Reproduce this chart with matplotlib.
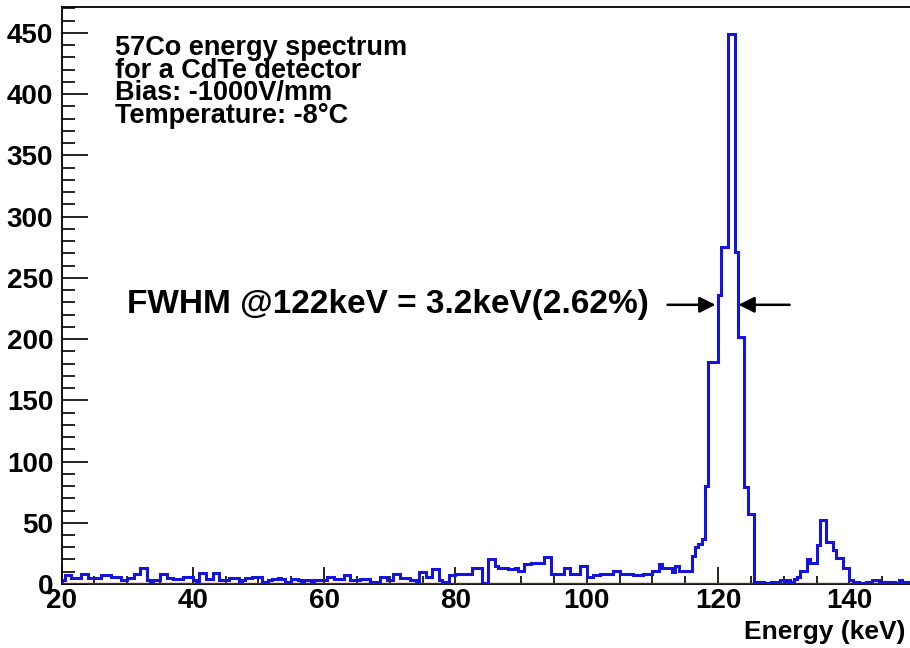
import numpy as np
import matplotlib.pyplot as plt
from matplotlib.ticker import MultipleLocator

plt.rcParams['font.family'] = ['Liberation Sans', 'DejaVu Sans']
plt.rcParams['font.weight'] = 'bold'

# histogram: 0.5 keV bins from 20 to 150 keV
e_lo = 20.0
e_hi = 150.0
e_step = 0.5

counts = [
    3, 7, 7, 5, 5, 5, 8, 8, 5, 5,           # 20 - 25
    5, 5, 7, 7, 7, 6, 6, 6, 3, 3,           # 25 - 30
    5, 5, 8, 8, 13, 13, 3, 1, 3, 3,         # 30 - 35
    8, 8, 5, 5, 4, 4, 4, 6, 6, 6,           # 35 - 40
    3, 2, 9, 9, 4, 4, 9, 9, 3, 3,           # 40 - 45
    3, 5, 5, 5, 2, 3, 5, 5, 6, 6,           # 45 - 50
    6, 2, 2, 3, 4, 4, 5, 4, 2, 2,           # 50 - 55
    4, 4, 3, 2, 3, 3, 2, 3, 3, 3,           # 55 - 60
    3, 6, 6, 4, 4, 4, 7, 7, 3, 3,           # 60 - 65
    3, 4, 4, 4, 2, 2, 2, 6, 6, 3,           # 65 - 70
    3, 8, 8, 5, 5, 5, 3, 3, 1, 10,          # 70 - 75
    10, 6, 6, 12, 12, 3, 2, 2, 7, 7,        # 75 - 80
    8, 8, 8, 8, 8, 13, 13, 13, 1, 1,        # 80 - 85
    20, 20, 15, 13, 13, 13, 12, 12, 13, 11,  # 85 - 90
    11, 16, 16, 17, 17, 17, 17, 22, 22, 8,  # 90 - 95
    8, 8, 8, 13, 13, 8, 8, 8, 15, 15,       # 95 - 100
    6, 6, 7, 7, 8, 8, 8, 8, 11, 11,         # 100 - 105
    8, 8, 8, 8, 7, 7, 7, 8, 8, 8,           # 105 - 110
    11, 11, 16, 13, 13, 13, 10, 15, 11, 11,  # 110 - 115
    11, 11, 23, 30, 33, 37, 80, 181, 181, 181,       # 115 - 120
    236, 275, 275, 449, 449, 271, 202, 202, 79, 57,  # 120 - 125
    57, 2, 1, 2, 1, 1, 2, 1, 2, 3,          # 125 - 130
    2, 3, 2, 4, 6, 11, 11, 20, 17, 17,      # 130 - 135
    32, 52, 52, 34, 34, 28, 21, 21, 13, 13,  # 135 - 140
    3, 2, 2, 1, 1, 2, 2, 3, 3, 2,           # 140 - 145
    2, 1, 2, 2, 1, 3, 2, 2, 2, 2,           # 145 - 150
]

info_lines = ["57Co energy spectrum", "for a CdTe detector",
              "Bias: -1000V/mm", "Temperature: -8°C"]
fwhm_text = "FWHM @122keV = 3.2keV(2.62%)"

edges = np.arange(e_lo, e_hi + e_step / 2, e_step)

fig = plt.figure(figsize=(9.1, 6.48), dpi=100)
# right end of the frame is cut off by the picture edge, like the original
ax = fig.add_axes([0.0676, 0.0988, 0.938, 0.890])

ax.axhline(0, color='#8b1010', lw=2.4, zorder=3)
ax.stairs(counts, edges, color='#1414dc', lw=2.2, zorder=4)

ax.set_xlim(e_lo, e_hi)
ax.set_ylim(0, 471)

ax.xaxis.set_major_locator(MultipleLocator(20))
ax.xaxis.set_minor_locator(MultipleLocator(5))
ax.yaxis.set_major_locator(MultipleLocator(50))
ax.yaxis.set_minor_locator(MultipleLocator(10))
ax.tick_params(axis='x', which='major', direction='in', length=12, width=1.2, pad=3, labelsize=20)
ax.tick_params(axis='x', which='minor', direction='in', length=6, width=1.2)
ax.tick_params(axis='y', which='major', direction='in', length=19, width=1.2, pad=6, labelsize=20)
ax.tick_params(axis='y', which='minor', direction='in', length=9.5, width=1.2)
for s in ax.spines.values():
    s.set_linewidth(1.3)

for i, line in enumerate(info_lines):
    fig.text(115 / 910, 1 - (55 + 22.7 * i) / 648, line, fontsize=19.5,
             fontweight='bold', va='baseline', ha='left')

ax.text(30.0, 228, fwhm_text, fontsize=24, fontweight='bold', va='center', ha='left')
ax.annotate('', xy=(119.6, 228), xytext=(112.3, 228),
            arrowprops=dict(arrowstyle='-|>', color='black', lw=1.8,
                            mutation_scale=24, shrinkA=0, shrinkB=0))
ax.annotate('', xy=(123.1, 228), xytext=(130.9, 228),
            arrowprops=dict(arrowstyle='-|>', color='black', lw=1.8,
                            mutation_scale=24, shrinkA=0, shrinkB=0))

fig.text(906 / 910, 1 - 632 / 648, "Energy (keV)", fontsize=19, fontweight='bold',
         ha='right', va='center')

fig.savefig("out.png", dpi=100)
